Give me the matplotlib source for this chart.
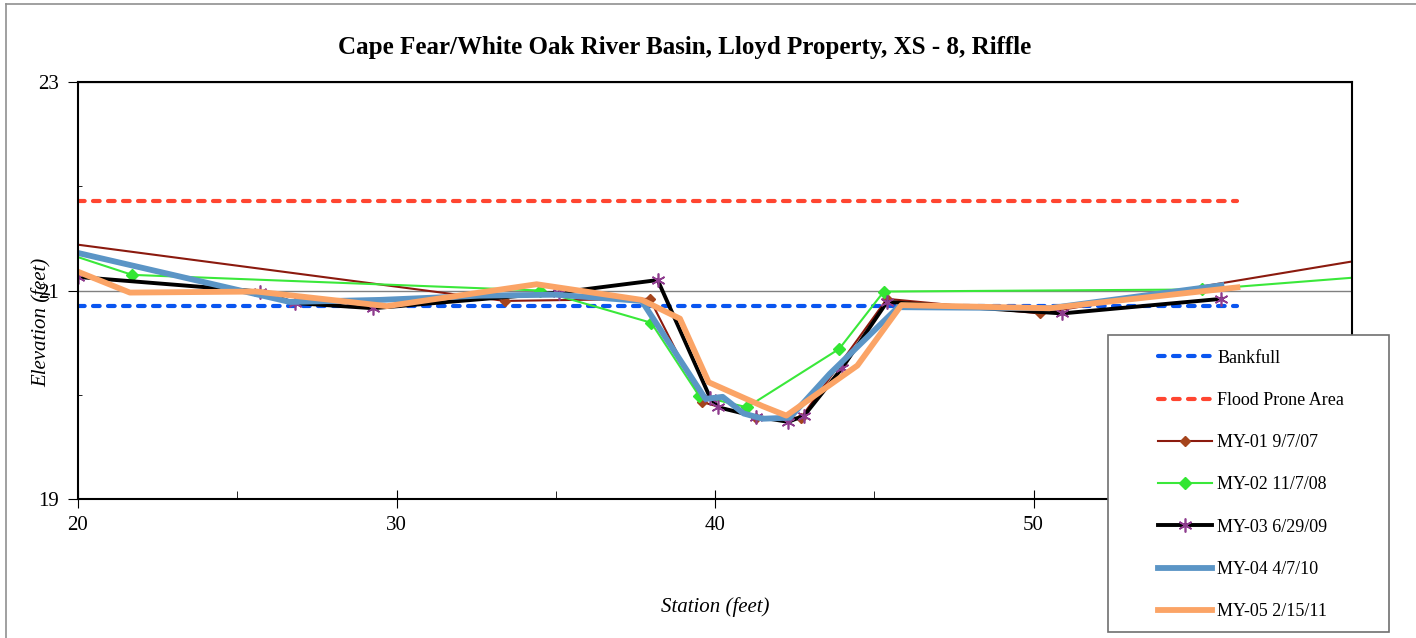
import matplotlib
matplotlib.use("Agg")
import matplotlib.pyplot as plt
from matplotlib.ticker import FixedLocator, MultipleLocator
from matplotlib.patches import Rectangle
from matplotlib.lines import Line2D

plt.rcParams['font.family'] = ['Liberation Serif', 'DejaVu Serif']

# Bankfull / flood prone elevations (feet)
bankfull_x = [20.0, 56.4]
bankfull_y = [20.856, 20.856]
flood_x = [20.0, 56.4]
flood_y = [21.86, 21.86]

# Cross-section surveys: station (feet) vs elevation (feet)
my01_x = [17.0, 33.4, 37.95, 39.6, 41.3, 42.7, 45.4, 50.2, 62.0]
my01_y = [21.56, 20.90, 20.92, 19.93, 19.78, 19.78, 20.92, 20.78, 21.38]

my02_x = [19.0, 21.7, 34.5, 38.0, 39.5, 41.0, 43.9, 45.3, 55.3, 62.0]
my02_y = [21.42, 21.15, 21.00, 20.69, 19.99, 19.88, 20.44, 20.99, 21.01, 21.17]

my03_x = [20.0, 25.7, 26.8, 29.27, 35.1, 38.2, 39.85, 40.1, 41.3, 42.3, 42.8, 44.0, 45.4, 50.9, 55.9]
my03_y = [21.13, 20.99, 20.88, 20.83, 20.98, 21.10, 19.97, 19.88, 19.79, 19.74, 19.80, 20.26, 20.89, 20.78, 20.92]

my04_x = [20.0, 26.65, 29.5, 32.6, 35.0, 37.7, 39.7, 40.24, 40.9, 41.5, 42.35, 43.6, 45.75, 50.5, 55.9]
my04_y = [21.36, 20.89, 20.91, 20.95, 20.96, 20.90, 19.96, 19.98, 19.82, 19.77, 19.78, 20.20, 20.84, 20.83, 21.05]

my05_x = [20.0, 21.63, 25.6, 29.7, 34.4, 37.7, 38.9, 39.8, 41.5, 42.24, 44.47, 45.85, 50.5, 56.4]
my05_y = [21.18, 20.98, 20.99, 20.85, 21.06, 20.91, 20.73, 20.12, 19.89, 19.80, 20.28, 20.86, 20.83, 21.03]

y_major = [19, 21, 23]
y_minor = [20, 22]

fig = plt.figure(figsize=(14.16, 6.38), dpi=100)
ax = fig.add_axes([78 / 1416, 1 - 499 / 638, 1274 / 1416, 417 / 638])

dash_kw = dict(lw=3, dashes=(1.6, 2.0), dash_capstyle='round')
ax.plot(bankfull_x, bankfull_y, color='#0A55F0', label='Bankfull', **dash_kw)
ax.plot(flood_x, flood_y, color='#FF4530', label='Flood Prone Area', **dash_kw)
ax.plot(my01_x, my01_y, color='#8B1A0E', lw=1.5, marker='D', ms=5,
        mfc='#A5441C', mec='#A5441C', label='MY-01 9/7/07')
ax.plot(my02_x, my02_y, color='#3AE83A', lw=1.5, marker='D', ms=6,
        mfc='#33E633', mec='#33E633', label='MY-02 11/7/08')
ax.plot(my03_x, my03_y, color='black', lw=2.8, marker=(6, 2, 0), ms=10, mew=1.2,
        mec='#8E3C8E', label='MY-03 6/29/09')
ax.plot(my04_x, my04_y, color='#5B95C6', lw=4.2, label='MY-04 4/7/10')
ax.plot(my05_x, my05_y, color='#FBA466', lw=4.2, label='MY-05 2/15/11')

ax.set_xlim(20, 60)
ax.set_ylim(19, 23)
ax.xaxis.set_major_locator(MultipleLocator(10))
ax.xaxis.set_minor_locator(MultipleLocator(5))
ax.yaxis.set_major_locator(FixedLocator(y_major))
ax.yaxis.set_minor_locator(FixedLocator(y_minor))
ax.grid(axis='y', which='major', color='#808080', lw=1)
ax.set_axisbelow(True)

for s in ax.spines.values():
    s.set_linewidth(1.5)
ax.tick_params(axis='x', which='major', direction='inout', length=13, labelsize=15, pad=6)
ax.tick_params(axis='x', which='minor', direction='in', length=6)
ax.tick_params(axis='y', which='major', direction='out', length=7, labelsize=15, pad=7)
ax.tick_params(axis='y', which='minor', direction='in', length=3)

ax.set_title('Cape Fear/White Oak River Basin, Lloyd Property, XS - 8, Riffle',
             fontsize=18, fontweight='bold', pad=20, x=0.4765)
ax.set_xlabel('Station (feet)', fontsize=15, style='italic')
ax.xaxis.set_label_coords(0.5, -0.235)
# in the original the axis title sits over the "21" tick label
ax.set_ylabel('Elevation (feet)', fontsize=15, style='italic')
ax.yaxis.set_label_coords(-0.021, 0.424)

# legend box sits on top of the plot, partly outside it
box = Rectangle((1108 / 1416, 1 - 632 / 638), 281 / 1416, 297 / 638,
                transform=fig.transFigure, facecolor='white', edgecolor='#707070',
                lw=1.2, zorder=4)
fig.add_artist(box)
handles, labels = ax.get_legend_handles_labels()
leg = fig.legend(handles, labels, loc='upper left', bbox_to_anchor=(1145 / 1416, 1 - 337 / 638),
                 frameon=False, fontsize=13, numpoints=1, handlelength=3.0,
                 handletextpad=0.3, labelspacing=1.4, borderpad=0.2)
leg.set_zorder(5)

# outer chart border
fig.add_artist(Line2D([6 / 1416, 1], [1 - 4 / 638, 1 - 4 / 638], transform=fig.transFigure,
                      color='#909090', lw=1.2))
fig.add_artist(Line2D([6 / 1416, 6 / 1416], [0, 1 - 4 / 638], transform=fig.transFigure,
                      color='#909090', lw=1.2))

fig.savefig('out.png', dpi=100)
